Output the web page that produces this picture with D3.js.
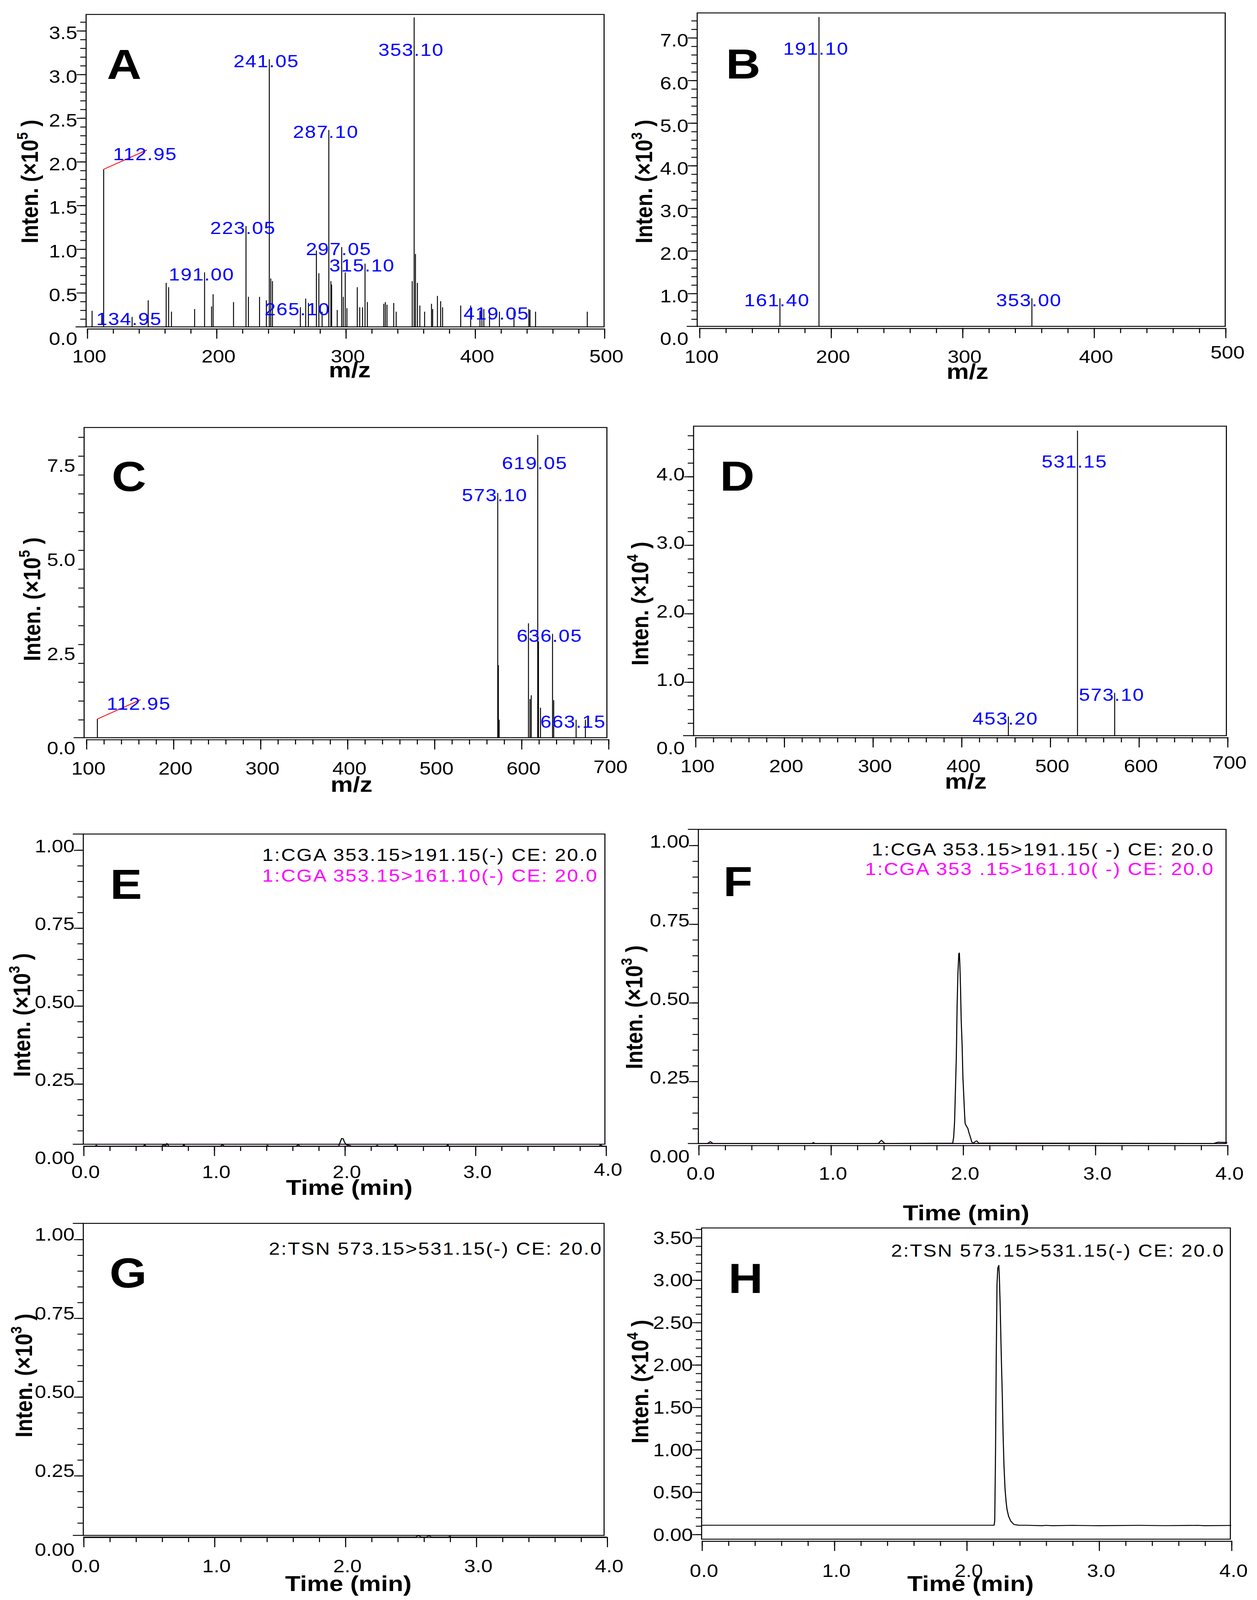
<!DOCTYPE html>
<html><head><meta charset="utf-8">
<script src="https://cdn.jsdelivr.net/npm/d3@7"></script>
<style>
html,body{margin:0;padding:0;width:100%;height:100%;overflow:hidden;background:#fff}
svg{display:block;width:100vw;height:100vh}
</style>
</head><body>
<svg id="chart" viewBox="0 0 1076 1572.7" preserveAspectRatio="none"></svg>
<script>
// ---------------- DATA ----------------
// Panel A: MS/MS spectrum (m/z, intensity x10^5)
const peaksA = [[104.0,0.29],[112.95,1.91],[134.95,0.22],[147.4,0.41],[161.3,0.61],[163.2,0.56],[165.4,0.28],[183.3,0.31],[191.0,0.73],[196.4,0.34],[197.6,0.48],[213.4,0.39],[223.05,1.26],[224.9,0.45],[233.5,0.45],[238.8,0.41],[241.05,3.17],[242.2,0.66],[243.5,0.63],[265.1,0.33],[269.2,0.43],[271.3,0.38],[277.5,0.98],[279.4,0.72],[281.9,0.28],[287.1,2.36],[288.7,0.63],[289.3,0.59],[293.6,0.30],[297.05,1.02],[298.3,0.45],[299.8,0.73],[301.1,0.32],[309.1,0.56],[311.0,0.33],[313.2,0.33],[315.1,0.83],[316.9,0.39],[329.6,0.37],[330.8,0.39],[332.1,0.36],[337.3,0.38],[339.2,0.28],[351.6,0.63],[353.1,3.65],[354.1,0.94],[355.6,0.61],[357.5,0.35],[361.2,0.28],[366.5,0.37],[367.4,0.31],[371.1,0.46],[373.6,0.40],[375.1,0.33],[389.1,0.35],[396.8,0.35],[404.0,0.29],[405.5,0.31],[407.0,0.31],[411.4,0.28],[419.05,0.28],[430.3,0.31],[441.8,0.31],[442.7,0.30],[447.0,0.28],[487.0,0.28]];
const labelsA = ["112.95","134.95","191.00","223.05","241.05","265.10","287.10","297.05","315.10","353.10","419.05"];
const leadersA = ["112.95"];
// Panel B (x10^3)
const peaksB = [[161.4,0.88],[191.1,7.48],[353.0,0.88]];
const labelsB = ["161.40","191.10","353.00"];
// Panel C (x10^5)
const peaksC = [[112.95,0.76],[573.1,6.76],[573.8,2.19],[574.7,0.74],[608.4,3.30],[610.2,1.29],[611.6,1.39],[619.05,8.30],[619.9,2.82],[622.2,1.06],[636.05,3.02],[637.4,1.26],[663.15,0.74],[673.8,0.74]];
const labelsC = ["112.95","573.10","619.05","636.05","663.15"];
const leadersC = ["112.95"];
// Panel D (x10^4)
const peaksD = [[453.2,0.455],[531.15,4.63],[573.1,0.80]];
const labelsD = ["453.20","531.15","573.10"];

// Chromatograms (time min, intensity)
const traceE191 = [[0,0.049],[0.09,0.049],[0.1,0.052],[0.11,0.049],[0.46,0.049],[0.47,0.054],[0.48,0.049],[0.6,0.049],[0.615,0.054],[0.63,0.05],[0.64,0.058],[0.655,0.049],[0.76,0.049],[0.77,0.054],[0.78,0.049],[1.05,0.049],[1.065,0.054],[1.08,0.049],[1.4,0.049],[1.41,0.052],[1.42,0.049],[1.63,0.049],[1.645,0.054],[1.66,0.049],[1.955,0.049],[1.965,0.06],[1.978,0.074],[1.99,0.073],[2.0,0.062],[2.015,0.053],[2.035,0.052],[2.055,0.049],[2.24,0.049],[2.25,0.052],[2.26,0.049],[2.38,0.049],[2.39,0.054],[2.4,0.049],[2.78,0.049],[2.79,0.054],[2.8,0.049],[3.95,0.049],[3.96,0.054],[3.975,0.049],[4,0.049]];
const traceE161 = [[0,0.049],[1.98,0.049],[4,0.049]];
const traceF191 = [[0,0.052],[0.07,0.052],[0.09,0.058],[0.11,0.052],[0.86,0.052],[0.87,0.055],[0.88,0.052],[1.36,0.052],[1.385,0.062],[1.41,0.052],[1.924,0.053],[1.931,0.072],[1.938,0.121],[1.944,0.215],[1.951,0.323],[1.957,0.487],[1.963,0.591],[1.970,0.655],[1.974,0.657],[1.978,0.619],[1.983,0.544],[1.988,0.444],[1.995,0.364],[2.001,0.261],[2.008,0.198],[2.014,0.142],[2.018,0.115],[2.029,0.106],[2.038,0.100],[2.046,0.087],[2.056,0.074],[2.068,0.057],[2.076,0.053],[2.086,0.055],[2.098,0.059],[2.106,0.060],[2.121,0.053],[3.9,0.052],[3.93,0.056],[4,0.055]];
const traceF161 = [[0,0.052],[2.0,0.052],[4,0.052]];
const traceG = [[0,0.054],[2.54,0.054],[2.56,0.059],[2.58,0.054],[2.62,0.054],[2.64,0.058],[2.66,0.054],[2.79,0.054],[2.8,0.057],[2.81,0.054],[4,0.054]];
const traceH = [[0,0.105],[2.209,0.105],[2.214,0.157],[2.220,0.968],[2.225,2.02],[2.231,2.94],[2.237,3.14],[2.245,3.17],[2.249,3.03],[2.255,2.70],[2.263,2.13],[2.271,1.64],[2.277,1.18],[2.284,0.80],[2.292,0.53],[2.300,0.38],[2.307,0.29],[2.319,0.21],[2.334,0.157],[2.358,0.115],[2.393,0.106],[2.45,0.105],[2.57,0.10],[2.60,0.104],[2.65,0.10],[2.8,0.104],[3.0,0.10],[3.3,0.104],[3.5,0.101],[3.75,0.104],[3.8,0.10],[4,0.103]];

// Legends
const legendE = ["1:CGA 353.15>191.15(-) CE: 20.0","1:CGA 353.15>161.10(-) CE: 20.0"];
const legendF = ["1:CGA 353.15>191.15( -) CE: 20.0","1:CGA 353 .15>161.10( -) CE: 20.0"];
const legendG = ["2:TSN 573.15>531.15(-) CE: 20.0"];
const legendH = ["2:TSN 573.15>531.15(-) CE: 20.0"];

// Tick labels
const xTicksAB = [100,200,300,400,500];
const xTicksCD = [100,200,300,400,500,600,700];
const xTicksTime = [0,1,2,3,4];
const yTicksA = [0,0.5,1.0,1.5,2.0,2.5,3.0,3.5];
const yTicksB = [0,1,2,3,4,5,6,7];
const yTicksC = [0,2.5,5.0,7.5];
const yTicksD = [0,1,2,3,4];
const yTicksEFG = [0,0.25,0.5,0.75,1.0];
const yTicksH = [0,0.5,1.0,1.5,2.0,2.5,3.0,3.5];
const letters = ["A","B","C","D","E","F","G","H"];
const exponents = [5,3,5,4,3,3,3,4];

// ---------------- DRAW ----------------
const svg = d3.select('#chart');
const FONT = "'Liberation Sans', Arial, sans-serif";
const BLUE = "#0000ff", MAG = "#ff00ff", RED = "#ff0000";
const stepRange = (a, b, s) => d3.range(Math.round(a / s), Math.round(b / s) + 1).map(i => +(i * s).toFixed(4));

function panel(c, idx) {
  const g = svg.append('g').attr('font-family', FONT);
  const [L, T, R, B] = c.frame;
  const x = d3.scaleLinear().domain(c.xDom).range(c.xR);
  const y = d3.scaleLinear().domain([0, 1]).range([c.y0, c.y0 - c.yPer]);
  const yT = d3.scaleLinear().domain([0, 1]).range([c.y0 + c.tickDy, c.y0 + c.tickDy - c.yPer]);
  const inFrame = v => yT(v) <= B - 0.4 && yT(v) >= T + 0.4;

  (c.traces || []).forEach(t => {
    g.append('path').datum(t.data)
      .attr('d', d3.line().x(d => x(d[0])).y(d => y(d[1])))
      .attr('fill', 'none').attr('stroke', t.color).attr('stroke-width', 0.9)
      .attr('stroke-linejoin', 'round');
  });

  g.append('rect').attr('x', L).attr('y', T).attr('width', R - L).attr('height', B - T)
    .attr('fill', 'none').attr('stroke', '#000').attr('stroke-width', 0.9);
  if (c.botExt) g.append('line').attr('x1', L - 9).attr('x2', L).attr('y1', B).attr('y2', B)
    .attr('stroke', '#000').attr('stroke-width', 0.9);
  if (c.topExt) g.append('line').attr('x1', L - 9).attr('x2', L).attr('y1', T).attr('y2', T)
    .attr('stroke', '#000').attr('stroke-width', 0.9);

  const axY = B + 1.6;
  const gxm = g.append('g').attr('transform', `translate(0,${axY})`)
    .call(d3.axisBottom(x).tickValues(c.xMinor).tickSize(5).tickFormat(''));
  gxm.select('.domain').remove();
  const gx = g.append('g').attr('transform', `translate(0,${axY})`)
    .call(d3.axisBottom(x).tickValues(c.xTicks).tickSize(10).tickSizeOuter(0).tickFormat(d3.format(c.xFmt)));
  [gxm, gx].forEach(s => s.attr('font-family', null).attr('font-size', null).attr('color', '#000')
    .selectAll('line,path').attr('stroke-width', 0.9));
  gx.selectAll('text').attr('dy', 0).attr('y', c.xLabelY - axY).attr('dx', 1.5)
    .attr('font-size', 17.5).attr('fill', '#000')
    .attr('transform', (d, i, n) => i === n.length - 1 ? `translate(0,${-c.lastDy})` : null);

  const gym = g.append('g').attr('transform', `translate(${L},0)`)
    .call(d3.axisLeft(yT).tickValues(c.yMinor.filter(inFrame)).tickSize(5).tickFormat(''));
  gym.select('.domain').remove();
  gym.attr('color', '#000').selectAll('line').attr('stroke-width', 0.9);
  if (c.majorLong) {
    const gyM = g.append('g').attr('transform', `translate(${L},0)`)
      .call(d3.axisLeft(yT).tickValues(c.yTicks.filter(inFrame)).tickSize(8).tickFormat(''));
    gyM.select('.domain').remove();
    gyM.attr('color', '#000').selectAll('line').attr('stroke-width', 0.9);
  }
  const gyl = g.append('g').attr('transform', `translate(${L},0)`)
    .call(d3.axisLeft(y).tickValues(c.yTicks).tickSize(0).tickPadding(7.5).tickFormat(d3.format(c.yFmt)));
  gyl.select('.domain').remove();
  gyl.selectAll('line').remove();
  gyl.attr('font-family', null).attr('font-size', null);
  gyl.selectAll('text').attr('dy', 0).attr('y', c.labelDy).attr('dominant-baseline', 'central')
    .attr('font-size', 17.5).attr('fill', '#000');

  if (c.peaks) {
    g.append('g').selectAll('line').data(c.peaks).join('line')
      .attr('x1', d => x(d[0])).attr('x2', d => x(d[0]))
      .attr('y1', B).attr('y2', d => y(d[1]))
      .attr('stroke', '#000').attr('stroke-width', 0.8);
    const lab = c.labels.map(s => {
      const m = +s;
      const p = c.peaks.reduce((a, b) => Math.abs(b[0] - m) < Math.abs(a[0] - m) ? b : a);
      return { s, p, leader: (c.leaders || []).includes(s) };
    });
    lab.filter(d => d.leader).forEach(d => {
      const px = x(d.p[0]), py = y(d.p[1]);
      g.append('line').attr('x1', px).attr('y1', py).attr('x2', px + 37).attr('y2', py - 19)
        .attr('stroke', RED).attr('stroke-width', 0.8);
      g.append('text').attr('x', px + 8).attr('y', py - 9).text(d.s)
        .attr('font-size', 17).attr('letter-spacing', 0.7).attr('fill', BLUE);
    });
    g.append('g').selectAll('text').data(lab.filter(d => !d.leader)).join('text')
      .attr('x', d => x(d.p[0]) - 2.6)
      .attr('y', d => Math.max(y(d.p[1]) + 2, T + 35))
      .attr('text-anchor', 'middle').attr('dominant-baseline', 'central')
      .attr('font-size', 17).attr('letter-spacing', 0.7).attr('fill', BLUE)
      .text(d => d.s);
  }

  (c.legend || []).forEach((t, i) => {
    g.append('text').attr('x', c.legendPos[0]).attr('y', c.legendPos[1] + i * c.legendGap)
      .attr('text-anchor', 'end').attr('font-size', 17).attr('letter-spacing', 1.0)
      .attr('fill', i === 0 ? '#000' : MAG).text(t);
  });

  g.append('text').attr('x', c.letterPos[0]).attr('y', c.letterPos[1])
    .attr('font-size', 41).attr('font-weight', 'bold').attr('fill', '#000').text(letters[idx]);

  g.append('text').attr('x', c.xTitlePos[0]).attr('y', c.xTitlePos[1])
    .attr('text-anchor', 'middle').attr('font-size', 21.5).attr('font-weight', 'bold')
    .attr('fill', '#000').text(c.xTitle);

  const yt = g.append('text')
    .attr('transform', `translate(${c.yTitlePos[0]},${c.yTitlePos[1]}) rotate(-90)`)
    .attr('text-anchor', 'middle').attr('font-size', 20.5).attr('font-weight', 'bold').attr('fill', '#000');
  yt.append('tspan').text('Inten. (\u00d710');
  yt.append('tspan').attr('font-size', 13).attr('dy', -9).text(exponents[idx]);
  yt.append('tspan').attr('dy', 9).text(' )');
}

const mzMinor = (a, b) => stepRange(a, b, 20);
const tMinor = stepRange(0, 4, 0.2);

const panels = [
  { frame: [73.7, 14.2, 517.1, 321.3], xDom: [100, 500], xR: [74.4, 517.1], xTicks: xTicksAB, xMinor: mzMinor(100, 500), xFmt: 'd',
    xLabelY: 356.4, lastDy: 0, y0: 330.4, yPer: 85.85, tickDy: 0, labelDy: 2, yTicks: yTicksA, yMinor: stepRange(0, 3.7, 0.1), yFmt: '.1f', majorLong: true,
    botExt: true, topExt: false,
    peaks: peaksA, labels: labelsA, leaders: leadersA, letterPos: [91.5, 77.6], xTitle: 'm/z', xTitlePos: [299.4, 371], yTitlePos: [32.6, 178.4] },
  { frame: [596.8, 12.7, 1048.8, 320.8], xDom: [100, 500], xR: [598.5, 1048.8], xTicks: xTicksAB, xMinor: mzMinor(100, 500), xFmt: 'd',
    xLabelY: 356.6, lastDy: 4, y0: 330.1, yPer: 41.9, tickDy: 0, labelDy: 2.5, yTicks: yTicksB, yMinor: stepRange(0, 7.6, 0.2), yFmt: '.1f', majorLong: true,
    botExt: true, topExt: false,
    peaks: peaksB, labels: labelsB, leaders: [], letterPos: [621.4, 77], xTitle: 'm/z', xTitlePos: [828.2, 372.5], yTitlePos: [558.4, 178.4] },
  { frame: [72, 420.2, 519.5, 725.1], xDom: [100, 700], xR: [73.7, 520.6], xTicks: xTicksCD, xMinor: mzMinor(100, 700), xFmt: 'd',
    xLabelY: 761.3, lastDy: 1.5, y0: 734.9, yPer: 37.03, tickDy: 0, labelDy: 0, yTicks: yTicksC, yMinor: stepRange(0, 8, 0.5).map(v => v + 0.25), yFmt: '.1f', majorLong: false,
    botExt: true, topExt: false,
    peaks: peaksC, labels: labelsC, leaders: leadersC, letterPos: [95.6, 482.8], xTitle: 'm/z', xTitlePos: [300.9, 778.4], yTitlePos: [34.3, 589] },
  { frame: [593.7, 418.9, 1049.8, 723.1], xDom: [100, 700], xR: [595.1, 1050.5], xTicks: xTicksCD, xMinor: mzMinor(100, 700), xFmt: 'd',
    xLabelY: 759.1, lastDy: 3.6, y0: 734.9, yPer: 67.3, tickDy: 2.5, labelDy: 0, yTicks: yTicksD, yMinor: stepRange(0, 4.6, 0.2), yFmt: '.1f', majorLong: true,
    botExt: true, topExt: false,
    peaks: peaksD, labels: labelsD, leaders: [], letterPos: [616.3, 482.2], xTitle: 'm/z', xTitlePos: [826.7, 775.1], yTitlePos: [554.9, 593.3] },
  { frame: [71.3, 819.8, 517.8, 1124.7], xDom: [0, 4], xR: [71.3, 518.5], xTicks: xTicksTime, xMinor: tMinor, xFmt: '.1f',
    xLabelY: 1158, lastDy: 2.4, y0: 1141.7, yPer: 306.4, tickDy: 0, labelDy: -4.2, yTicks: yTicksEFG, yMinor: stepRange(0, 1.05, 0.05), yFmt: '.2f', majorLong: true,
    botExt: true, topExt: true,
    traces: [{ data: traceE161, color: MAG }, { data: traceE191, color: '#000' }],
    legend: legendE, legendPos: [512, 846.3], legendGap: 20.3,
    letterPos: [94.2, 883.6], xTitle: 'Time (min)', xTitlePos: [299, 1174.5], yTitlePos: [25.7, 997.7] },
  { frame: [597.8, 815.2, 1049.5, 1124], xDom: [0, 4], xR: [597.8, 1050.5], xTicks: xTicksTime, xMinor: tMinor, xFmt: '.1f',
    xLabelY: 1159.6, lastDy: 0, y0: 1140, yPer: 309.3, tickDy: 0, labelDy: -4, yTicks: yTicksEFG, yMinor: stepRange(0, 1.05, 0.05), yFmt: '.2f', majorLong: true,
    botExt: true, topExt: true,
    traces: [{ data: traceF161, color: MAG }, { data: traceF191, color: '#000' }],
    legend: legendF, legendPos: [1039.5, 840.8], legendGap: 19.1,
    letterPos: [619.1, 880.7], xTitle: 'Time (min)', xTitlePos: [827, 1199.6], yTitlePos: [549.8, 990] },
  { frame: [71.3, 1202.5, 517.1, 1509.2], xDom: [0, 4], xR: [71.3, 519.5], xTicks: xTicksTime, xMinor: tMinor, xFmt: '.1f',
    xLabelY: 1545.3, lastDy: 0, y0: 1527.6, yPer: 309.6, tickDy: 0, labelDy: -5, yTicks: yTicksEFG, yMinor: stepRange(0, 1.05, 0.05), yFmt: '.2f', majorLong: true,
    botExt: true, topExt: true,
    traces: [{ data: traceG, color: '#000' }],
    legend: legendG, legendPos: [515.8, 1233.4], legendGap: 0,
    letterPos: [93.7, 1265.5], xTitle: 'Time (min)', xTitlePos: [298.2, 1563.7], yTitlePos: [27.5, 1352] },
  { frame: [600.6, 1207, 1053.2, 1512.9], xDom: [0, 4], xR: [600.6, 1053.9], xTicks: xTicksTime, xMinor: tMinor, xFmt: '.1f',
    xLabelY: 1550.2, lastDy: 0, y0: 1508, yPer: 83.35, tickDy: 0, labelDy: 0, yTicks: yTicksH, yMinor: stepRange(0, 3.6, 0.1), yFmt: '.2f', majorLong: true,
    botExt: false, topExt: false,
    traces: [{ data: traceH, color: '#000' }],
    legend: legendH, legendPos: [1048.4, 1235.3], legendGap: 0,
    letterPos: [623.5, 1270.9], xTitle: 'Time (min)', xTitlePos: [830.8, 1563.7], yTitlePos: [554.9, 1358] }
];

panels.forEach((c, i) => panel(c, i));
</script>
</body></html>
